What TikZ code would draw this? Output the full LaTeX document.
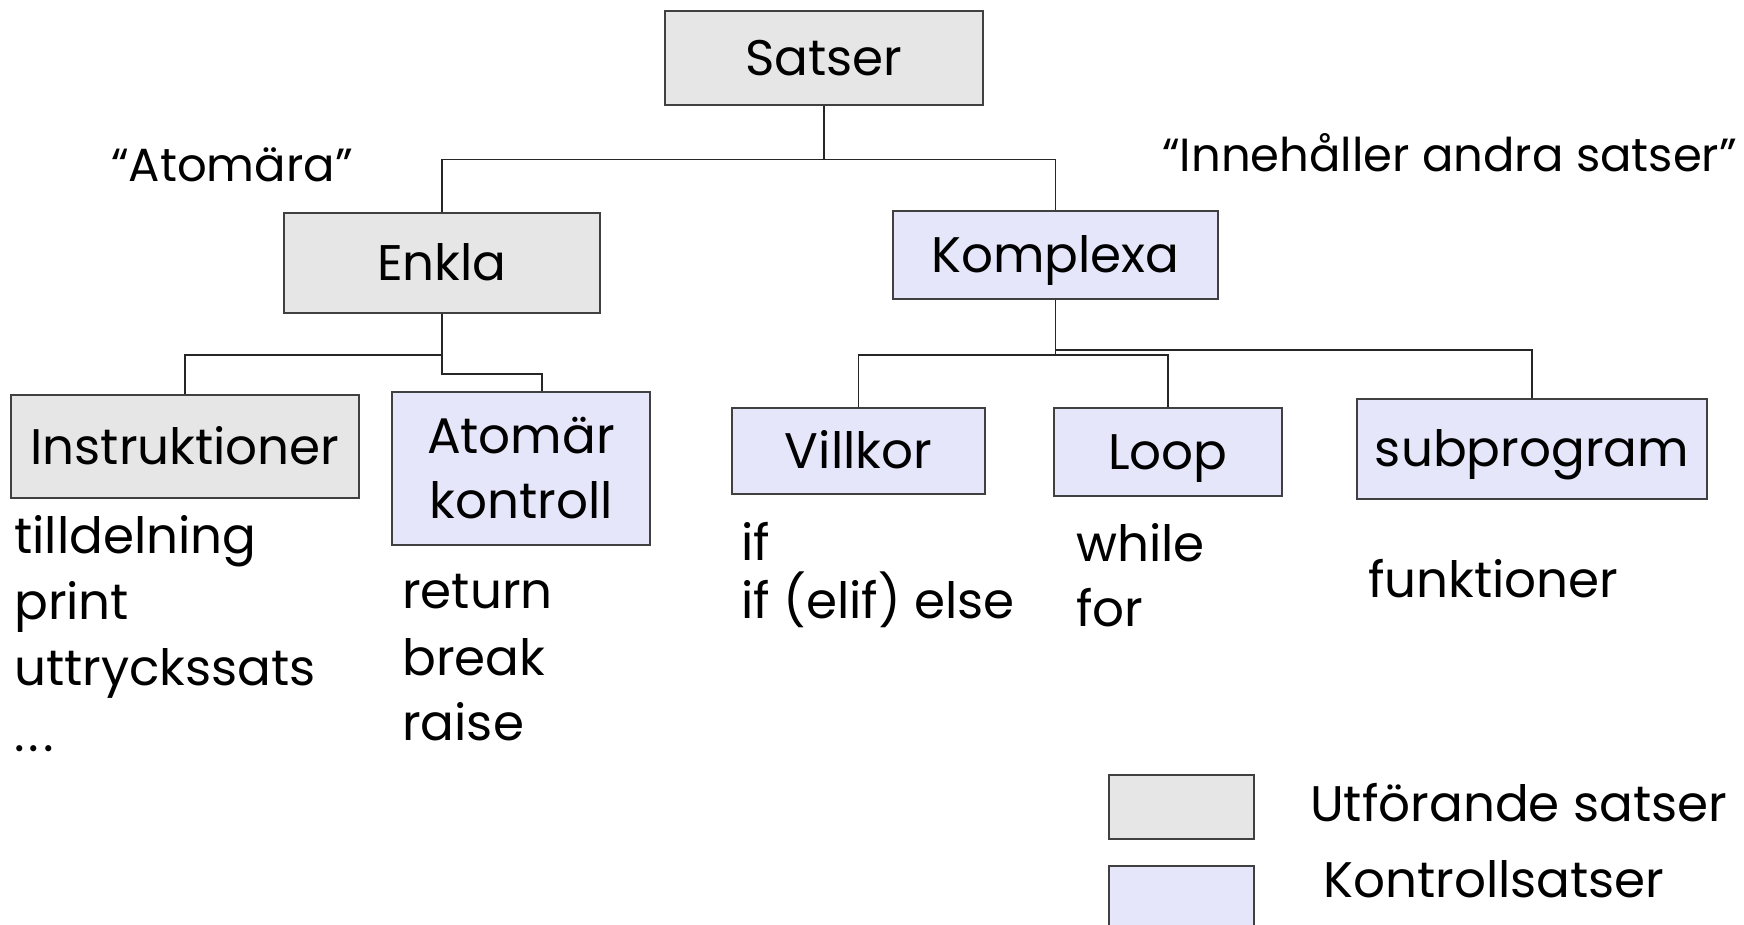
\documentclass[tikz,border=0pt]{standalone}
\usepackage{fontspec}
\setmainfont{Poppins}
\definecolor{grayfill}{HTML}{E6E6E6}
\definecolor{bluefill}{HTML}{E6E6FA}
\definecolor{edge}{HTML}{404040}
\begin{document}
\begin{tikzpicture}[x=1pt,y=-1pt,
  box/.style={draw=edge,line width=1.6pt,inner sep=0pt,align=center,font=\fontsize{50}{65}\selectfont},
  capcenter/.style={text height=35pt,text depth=0pt},
  gbox/.style={box,fill=grayfill},
  bbox/.style={box,fill=bluefill},
  conn/.style={draw=black!85,line width=1.4pt},
  txt/.style={anchor=base west,inner sep=0pt,font=\fontsize{50}{62}\selectfont},
  qtxt/.style={anchor=base west,inner sep=0pt,font=\fontsize{46.5}{56}\selectfont},
  ltxt/.style={anchor=base west,inner sep=0pt,font=\fontsize{50}{62}\selectfont}]
\useasboundingbox (0,0) rectangle (1744,925);
\fill[white] (0,0) rectangle (1744,925);
% boxes
\node[gbox,capcenter,minimum width=318pt,minimum height=94pt] (satser) at (824,58) {Satser};
\node[gbox,capcenter,minimum width=316pt,minimum height=100pt] (enkla) at (442,263) {Enkla};
\node[bbox,capcenter,minimum width=325pt,minimum height=88pt] (komplexa) at (1055.5,255) {Komplexa};
\node[gbox,capcenter,minimum width=348pt,minimum height=103pt] (instr) at (185,446.5) {Instruktioner};
\node[bbox,minimum width=258pt,minimum height=153pt] (atom) at (521,468.5) {Atomär\\kontroll};
\node[bbox,capcenter,minimum width=253pt,minimum height=86pt] (villkor) at (858.5,451) {Villkor};
\node[bbox,capcenter,minimum width=228pt,minimum height=88pt] (loop) at (1168,452) {Loop};
\node[bbox,capcenter,minimum width=350pt,minimum height=100pt] (sub) at (1532,449) {subprogram};
% connectors
\draw[conn] (satser.south) -- ++(0,54) -| (enkla.north);
\draw[conn] (satser.south) -- ++(0,54) -| (komplexa.north);
\draw[conn] (enkla.south) -- ++(0,41) -| (instr.north);
\draw[conn] (enkla.south) -- ++(0,60) -| ([xshift=21pt]atom.north);
\draw[conn] (komplexa.south) -- ++(0,55) -| (villkor.north);
\draw[conn] (komplexa.south) -- ++(0,55) -| (loop.north);
\draw[conn] (komplexa.south) -- ++(0,50) -| (sub.north);
% annotations
\node[qtxt] (qa) at (111,182) {“Atomära”};
\node[qtxt] (qi) at (1162,172) {“Innehåller andra satser”};
% lists
\node[txt] (l1) at (14,553) {tilldelning};
\node[txt] (l2) at (14,619) {print};
\node[txt] (l3) at (14,685) {uttryckssats};
\node[txt] (l4) at (14,751) {.\kern4pt.\kern4pt.};
\node[txt] (r1) at (402,608) {return};
\node[txt] (r2) at (402,675) {break};
\node[txt] (r3) at (402,740) {raise};
\node[txt] (v1) at (741,560) {if};
\node[txt] (v2) at (741,618) {if (elif) else};
\node[txt] (w1) at (1076,561) {while};
\node[txt] (w2) at (1076,626) {for};
\node[txt] (f1) at (1368,597) {funktioner};
% legend
\node[gbox,minimum width=145pt,minimum height=64pt] (lg) at (1181.5,807) {};
\node[bbox,minimum width=145pt,minimum height=64pt] (lb) at (1181.5,898) {};
\node[ltxt] (lgt) at (1310,821) {Utförande satser};
\node[ltxt] (lbt) at (1323,897) {Kontrollsatser};
\end{tikzpicture}
\end{document}
